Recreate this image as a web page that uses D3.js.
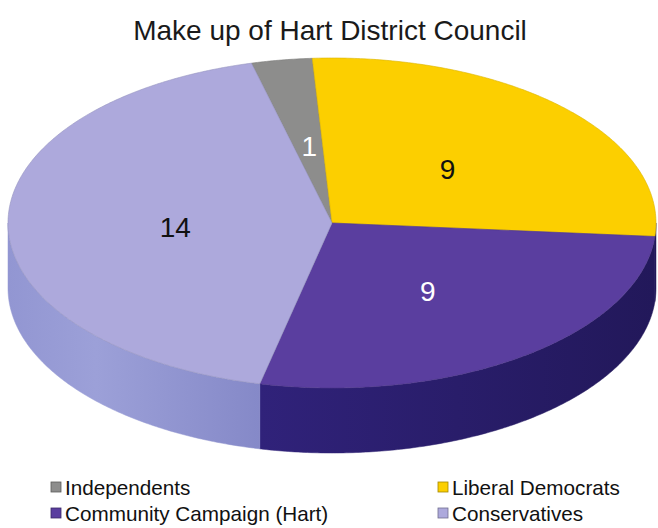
<!DOCTYPE html>
<html>
<head>
<meta charset="utf-8">
<script src="https://cdn.jsdelivr.net/npm/d3@7"></script>
<style>
  body { margin: 0; background: #fff; }
  text { font-family: "Liberation Sans", Arial, sans-serif; }
</style>
</head>
<body>
<svg id="chart" width="658" height="528"></svg>
<script>
// party names, seats, colours
var parties = ["Independents", "Liberal Democrats", "Community Campaign (Hart)", "Conservatives"];
var seats = [1, 9, 9, 14];
var topColors = ["#8d8d8c", "#fccf00", "#5a3e9f", "#ada9dc"];
var labelColors = ["#fff", "#111", "#fff", "#111"];

var title = "Make up of Hart District Council";

var W = 658, H = 528;
var cx = 332, cy = 223;
var rx = 324, ry = 165;
var depth = 65;

var svg = d3.select("#chart");

var defs = svg.append("defs");
// gradients for the visible walls
var g1 = defs.append("linearGradient").attr("id", "sideCons").attr("x1", "0").attr("x2", "1");
g1.append("stop").attr("offset", "0").attr("stop-color", "#9296d2");
g1.append("stop").attr("offset", "0.35").attr("stop-color", "#9ca0d8");
g1.append("stop").attr("offset", "1").attr("stop-color", "#8589c8");
var g2 = defs.append("linearGradient").attr("id", "sideCC").attr("x1", "0").attr("x2", "1");
g2.append("stop").attr("offset", "0").attr("stop-color", "#30227a");
g2.append("stop").attr("offset", "1").attr("stop-color", "#22185a");
var sideFill = ["#6c6c6b", "#22185a", "url(#sideCC)", "url(#sideCons)"];

var data = parties.map(function(p, i) { return { name: p, value: seats[i], i: i }; });

var pie = d3.pie()
  .sort(null)
  .value(function(d) { return d.value; })
  .startAngle(-14.4 * Math.PI / 180)
  .endAngle((360 - 14.4) * Math.PI / 180);

var arcs = pie(data);

function pt(a, dy) {
  return [cx + rx * Math.sin(a), cy - ry * Math.cos(a) + (dy || 0)];
}

function ring(a0, a1, dy) {
  var n = Math.max(2, Math.ceil(Math.abs(a1 - a0) / 0.01));
  var pts = [];
  for (var k = 0; k <= n; k++) pts.push(pt(a0 + (a1 - a0) * k / n, dy));
  return pts;
}

var line = d3.line();

// walls (only the front half, angles 90deg..270deg)
var front0 = Math.PI / 2, front1 = 3 * Math.PI / 2;
arcs.forEach(function(d) {
  var a0 = Math.max(d.startAngle, front0), a1 = Math.min(d.endAngle, front1);
  if (a1 <= a0) return;
  var topEdge = ring(a0, a1, 0);
  var botEdge = ring(a1, a0, depth);
  svg.append("path")
    .attr("d", line(topEdge.concat(botEdge)) + "Z")
    .attr("fill", sideFill[d.data.i])
    .attr("stroke", sideFill[d.data.i] )
    .attr("stroke-width", 0.5);
});

// tops
arcs.forEach(function(d) {
  var pts = [[cx, cy]].concat(ring(d.startAngle, d.endAngle, 0));
  svg.append("path")
    .attr("d", line(pts) + "Z")
    .attr("fill", topColors[d.data.i])
    .attr("stroke", d3.color(topColors[d.data.i]).darker(0.4))
    .attr("stroke-width", 0.6);
});

// value labels
arcs.forEach(function(d) {
  var mid = (d.startAngle + d.endAngle) / 2;
  var f = 0.49;
  svg.append("text")
    .attr("x", cx + rx * f * Math.sin(mid) + 2)
    .attr("y", cy - ry * f * Math.cos(mid) + 3)
    .attr("text-anchor", "middle")
    .attr("dominant-baseline", "central")
    .attr("font-size", 28)
    .attr("fill", labelColors[d.data.i])
    .text(d.data.value);
});

// title
svg.append("text")
  .attr("x", 330)
  .attr("y", 40)
  .attr("text-anchor", "middle")
  .attr("font-size", 28)
  .attr("fill", "#1a1a1a")
  .text(title);

// legend, two columns
var legendPos = [[51, 495], [438, 495], [51, 521], [438, 521]];
data.forEach(function(d, i) {
  var p = legendPos[i];
  svg.append("rect")
    .attr("x", p[0]).attr("y", p[1] - 13)
    .attr("width", 10).attr("height", 10)
    .attr("fill", topColors[i])
    .attr("stroke", d3.color(topColors[i]).darker(1.2))
    .attr("stroke-width", 0.8);
  svg.append("text")
    .attr("x", p[0] + 14)
    .attr("y", p[1])
    .attr("font-size", 20.7)
    .attr("fill", "#111")
    .text(d.name);
});
</script>
</body>
</html>
